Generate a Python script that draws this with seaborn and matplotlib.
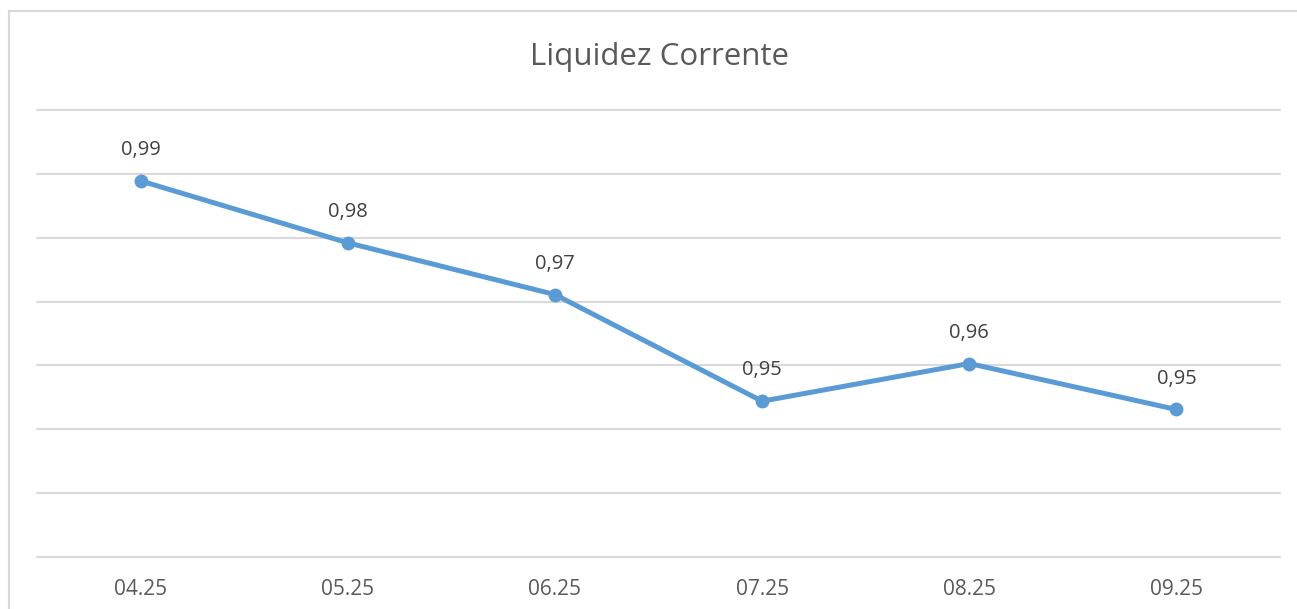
import matplotlib
matplotlib.use("Agg")
import matplotlib.pyplot as plt
from matplotlib.lines import Line2D
import seaborn as sns
import pandas as pd
import numpy as np

# data
months = ['04.25', '05.25', '06.25', '07.25', '08.25', '09.25']
liquidez = [0.9889, 0.9792, 0.9711, 0.9544, 0.9603, 0.9531]

df = pd.DataFrame({'mes': months, 'liquidez': liquidez})

sns.set_style("white")
plt.rcParams['font.family'] = ['Open Sans', 'DejaVu Sans']

line_color = '#5B9BD5'
text_color = '#595959'
grid_color = '#D9D9D9'

fig = plt.figure(figsize=(12.97, 6.09), dpi=100)
ax = fig.add_axes([37 / 1297, 1 - 557 / 609, (1280 - 37) / 1297, (557 - 110) / 609])

sns.lineplot(data=df, x='mes', y='liquidez', ax=ax, sort=False,
             color=line_color, linewidth=3.6, marker='o', markersize=10,
             markeredgewidth=0, markerfacecolor=line_color)

# data labels
for i, v in enumerate(liquidez):
    ax.annotate(f"{v:.2f}".replace('.', ','), (i, v), xytext=(0, 15),
                textcoords='offset points', ha='center', va='bottom',
                fontsize=14.5, color='#404040')

ax.set_xlim(-0.5, len(months) - 0.5)
ax.set_ylim(0.93, 1.00)
ax.set_yticks(np.arange(0.93, 1.001, 0.01))
ax.set_yticklabels([])
ax.yaxis.grid(True, color=grid_color, linewidth=1.5)
for gl in ax.get_ygridlines():
    gl.set_clip_on(False)
ax.set_axisbelow(True)
for s in ax.spines.values():
    s.set_visible(False)
ax.tick_params(axis='x', length=0, pad=15.5, labelsize=15, labelcolor=text_color)
ax.tick_params(axis='y', length=0)
ax.set_xlabel('')
ax.set_ylabel('')

fig.text(659 / 1297, 1 - 57 / 609, 'Liquidez Corrente', ha='center', va='center',
         fontsize=22.5, color=text_color)

# chart frame (top and left edges visible)
fig.add_artist(Line2D([9 / 1297, 1], [1 - 11 / 609, 1 - 11 / 609], transform=fig.transFigure,
                      color=grid_color, linewidth=1.5))
fig.add_artist(Line2D([9 / 1297, 9 / 1297], [0, 1 - 11 / 609], transform=fig.transFigure,
                      color=grid_color, linewidth=1.5))

fig.savefig('out.png', dpi=100)
